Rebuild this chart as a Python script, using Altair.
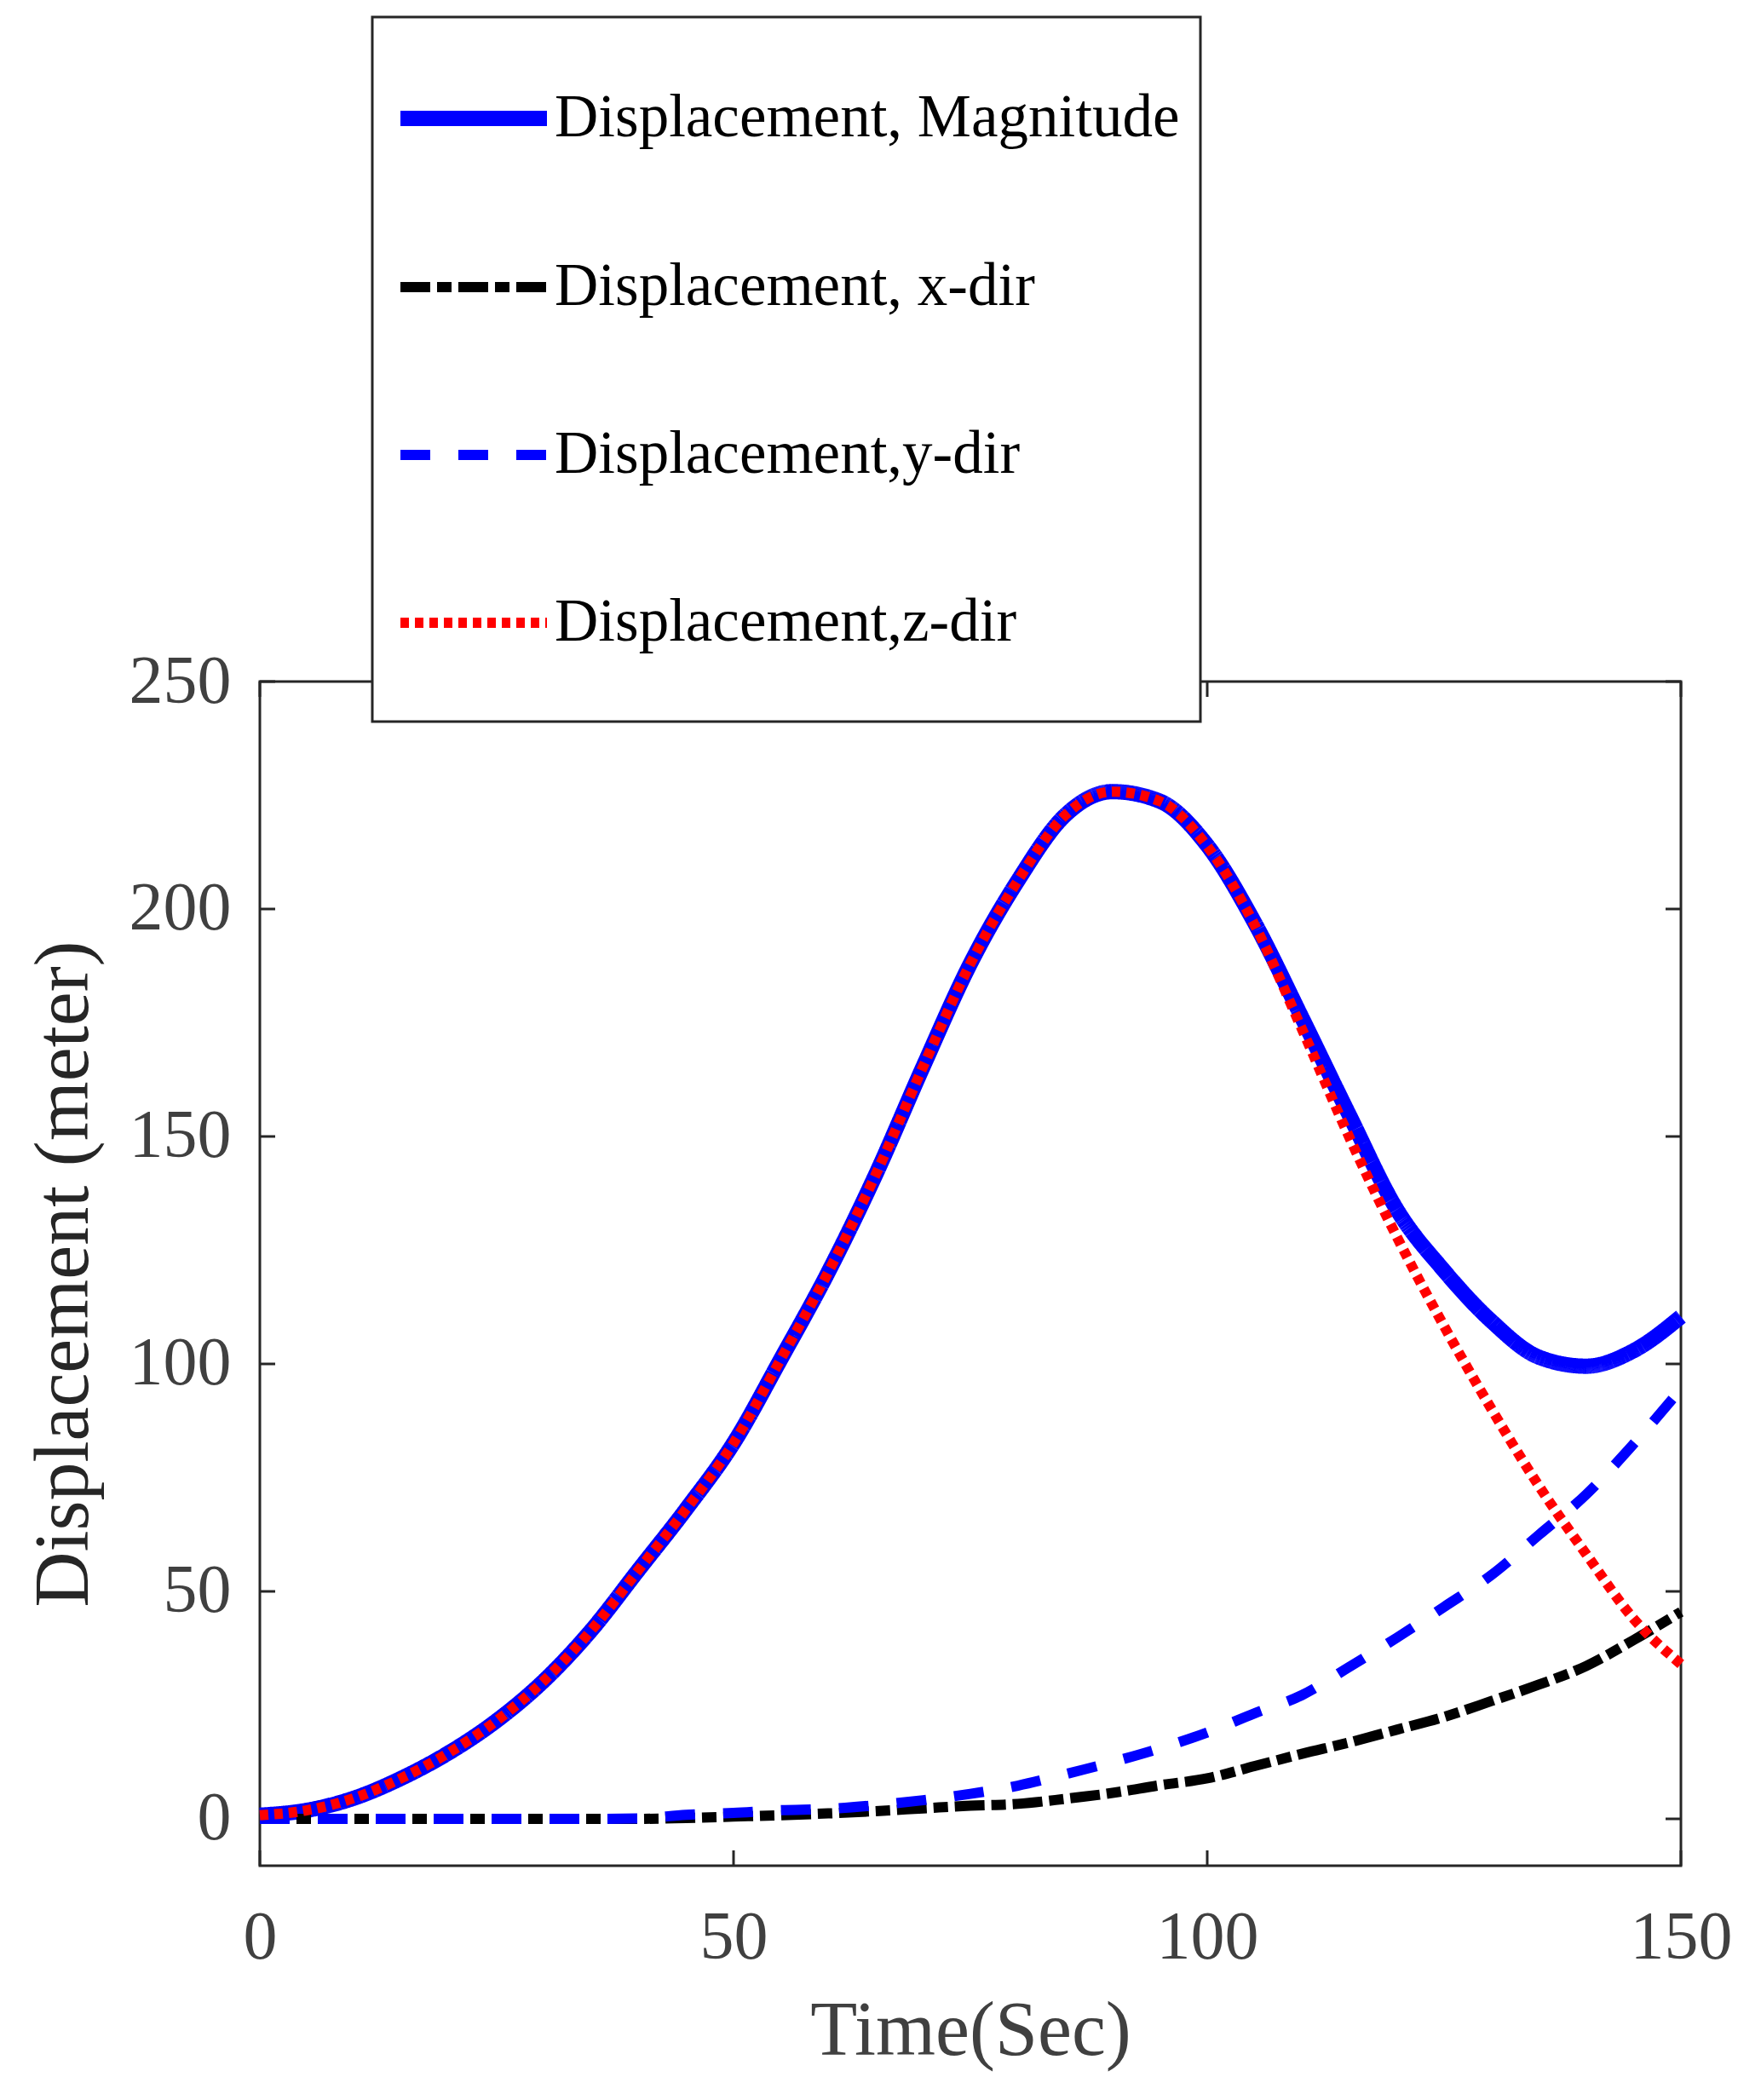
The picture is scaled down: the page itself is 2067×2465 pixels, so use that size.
import altair as alt
import pandas as pd

# ---- data ----
TIME = list(range(0, 151, 5))
MAG = [0.8, 1.9, 4.6, 9.0, 14.6, 21.6, 30.4, 41.5, 54.8, 68.1, 82.6, 101.1, 120.2, 141.6,
       165.3, 188.0, 206.2, 220.6, 225.8, 223.7, 214.0, 197.0, 176.1, 154.7, 134.0, 120.5,
       109.4, 101.5, 99.5, 102.9, 110.4]
XDIR = [0, 0, 0, 0, 0, 0, 0, 0, 0, 0.2, 0.5, 0.8, 1.2, 1.7, 2.3, 2.9, 3.3, 4.4, 5.7, 7.4,
        8.9, 11.6, 14.3, 16.8, 19.6, 22.4, 25.9, 29.5, 33.6, 39.3, 45.5]
YDIR = [0, 0, 0, 0, 0, 0, 0, 0, 0.1, 0.9, 1.3, 1.9, 2.2, 3.0, 4.1, 5.5, 7.3, 9.8, 12.5,
        15.5, 19.0, 23.2, 27.2, 33.4, 39.8, 46.6, 53.6, 62.4, 71.3, 82.4, 94.5]
ZDIR = [0.8, 1.9, 4.6, 9.0, 14.6, 21.6, 30.4, 41.5, 54.8, 68.1, 82.6, 101.1, 120.2, 141.6,
        165.3, 188.0, 206.2, 220.6, 225.8, 223.7, 213.8, 196.5, 173.6, 149.8, 128.0, 108.3,
        90.1, 73.2, 58.2, 44.0, 34.0]

SERIES = ["Displacement, Magnitude", "Displacement, x-dir",
          "Displacement,y-dir", "Displacement,z-dir"]
COLORS = ["#0000ff", "#000000", "#0000ff", "#ff0000"]
DASHES = [[1, 0], [35, 8, 17, 8], [35, 33], [10, 7]]
WIDTHS = [18, 12, 12, 12]
X_TICKS = [0, 50, 100, 150]
Y_TICKS = [0, 50, 100, 150, 200, 250]

rows = []
for name, vals in zip(SERIES, [MAG, XDIR, YDIR, ZDIR]):
    for t, v in zip(TIME, vals):
        rows.append({"time": t, "disp": v, "series": name})
df = pd.DataFrame(rows)

W, H = 1668, 1390
TICK = 18
AX = "#262626"
FONT = "Liberation Serif"

xs = alt.Scale(domain=[0, 150], nice=False, zero=False)
ys = alt.Scale(domain=[-10.3, 250], nice=False, zero=False)

x_axis = alt.Axis(values=X_TICKS, domain=False, ticks=False, tickSize=0, grid=False,
                  labelFont=FONT, labelFontSize=80, labelColor="#404040", labelPadding=45,
                  labelFlush=False, labelOverlap=False, format="d",
                  titleFont=FONT, titleFontSize=90, titleColor="#404040",
                  titleFontWeight="normal", titleBaseline="alphabetic", titleY=221)
y_axis = alt.Axis(values=Y_TICKS, domain=False, ticks=False, tickSize=0, grid=False,
                  labelFont=FONT, labelFontSize=80, labelColor="#404040", labelPadding=34,
                  labelFlush=False, labelOverlap=False, format="d",
                  titleFont=FONT, titleFontSize=90, titleColor=AX,
                  titleFontWeight="normal", titleAngle=270, titleBaseline="alphabetic",
                  titleX=-203, titleY=695)

X = alt.X("time:Q", scale=xs, axis=x_axis, title="Time(Sec)")
Y = alt.Y("disp:Q", scale=ys, axis=y_axis, title="Displacement (meter)")

legend = alt.Legend(orient="none", legendX=132, legendY=-780, direction="vertical",
                    symbolType="stroke", symbolSize=29584,
                    labelFont=FONT, labelFontSize=71, labelColor="black", labelLimit=3000,
                    labelOffset=0, rowPadding=70, padding=24,
                    titleOrient="bottom", titleFont=FONT, titleFontSize=42,
                    titlePadding=16, titleColor="white",
                    strokeColor=AX, fillColor="white")

LEG_TITLE = " "
color = alt.Color("series:N", title=LEG_TITLE,
                  scale=alt.Scale(domain=SERIES, range=COLORS), legend=legend)
dash = alt.StrokeDash("series:N", title=LEG_TITLE,
                      scale=alt.Scale(domain=SERIES, range=DASHES), legend=legend)
swidth = alt.StrokeWidth("series:N", title=LEG_TITLE,
                         scale=alt.Scale(type="ordinal", domain=SERIES, range=WIDTHS),
                         legend=legend)

layers = []
for name in SERIES:
    layers.append(
        alt.Chart(df).transform_filter(alt.datum.series == name)
        .mark_line(interpolate="monotone")
        .encode(x=X, y=Y, color=color, strokeDash=dash, strokeWidth=swidth)
    )

xt = pd.DataFrame({"time": X_TICKS})
yt = pd.DataFrame({"disp": Y_TICKS})
rule = dict(color=AX, strokeWidth=3)
ticks = [
    alt.Chart(xt).mark_rule(**rule).encode(x=X, y=alt.value(H), y2=alt.value(H - TICK)),
    alt.Chart(xt).mark_rule(**rule).encode(x=X, y=alt.value(0), y2=alt.value(TICK)),
    alt.Chart(yt).mark_rule(**rule).encode(y=Y, x=alt.value(0), x2=alt.value(TICK)),
    alt.Chart(yt).mark_rule(**rule).encode(y=Y, x=alt.value(W), x2=alt.value(W - TICK)),
]

chart = alt.layer(*ticks, *layers).properties(
    width=W, height=H,
    autosize=alt.AutoSizeParams(type="none"),
    padding={"left": 297, "top": 792, "right": 80, "bottom": 260},
).configure_view(stroke=AX, strokeWidth=3).configure_legend(strokeWidth=3)

chart.save("out.html", embed_options={"renderer": "svg", "actions": False})
